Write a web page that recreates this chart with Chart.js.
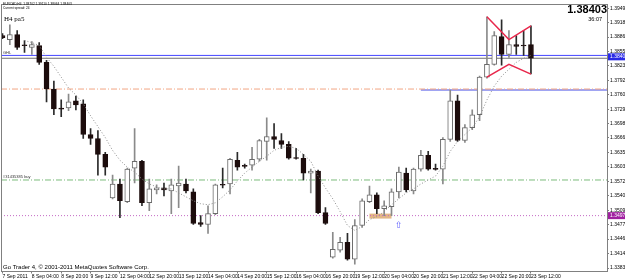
<!DOCTYPE html>
<html>
<head>
<meta charset="utf-8">
<script src="https://cdn.jsdelivr.net/npm/chart.js@4.4.1/dist/chart.umd.min.js"></script>
<style>
  html, body { margin: 0; padding: 0; background: #fff; }
  canvas { display: block; }
</style>
</head>
<body>
<canvas id="chart" width="625" height="279"></canvas>
<script>
// EURCAD H4, one value per bar (bar 0 = 7 Sep 12:00, bar 72 = 23 Sep 12:00)
const opens = [1.38896, 1.38810, 1.38918, 1.38681, 1.38638, 1.38681, 1.38314, 1.37732, 1.37301, 1.37323,
  1.37473, 1.37409, 1.36740, 1.36654, 1.36309, 1.35360, 1.35662, 1.35274, 1.36007, 1.36158,
  1.35253, 1.35533, 1.35576, 1.35511, 1.35619, 1.35662, 1.35490, 1.34821, 1.34778, 1.35016,
  1.35641, 1.35662, 1.36180, 1.36050, 1.36072, 1.36201, 1.36589, 1.36697, 1.36611, 1.36525,
  1.36223, 1.36223, 1.35900, 1.35943, 1.35037, 1.34067, 1.34218, 1.34390, 1.34024, 1.34757,
  1.35274, 1.35425, 1.35123, 1.35166, 1.35490, 1.35900, 1.35511, 1.35986, 1.36288, 1.35986,
  1.35986, 1.36633, 1.37473, 1.36611, 1.36891, 1.37172, 1.37991, 1.38271, 1.38875, 1.38487,
  1.38702, 1.38681, 1.38702];
const highs = [1.38940, 1.39134, 1.39004, 1.38789, 1.38767, 1.38746, 1.38357, 1.37905, 1.37495, 1.37624,
  1.37581, 1.37495, 1.36870, 1.36827, 1.36352, 1.35856, 1.35770, 1.36007, 1.36870, 1.36180,
  1.35770, 1.35641, 1.35684, 1.35770, 1.36050, 1.35770, 1.35555, 1.34972, 1.35188, 1.35662,
  1.36007, 1.36223, 1.36352, 1.36094, 1.36460, 1.36633, 1.37107, 1.36978, 1.36762, 1.36589,
  1.36439, 1.36309, 1.35986, 1.35964, 1.35145, 1.34606, 1.34498, 1.34584, 1.34886, 1.35339,
  1.35619, 1.35468, 1.35296, 1.35555, 1.36029, 1.36007, 1.36007, 1.36395, 1.36374, 1.36094,
  1.36676, 1.37711, 1.37603, 1.36956, 1.37279, 1.38012, 1.39306, 1.38983, 1.39241, 1.39004,
  1.38896, 1.39004, 1.39110];
const lows = [1.38832, 1.38702, 1.38595, 1.38530, 1.38487, 1.38271, 1.37452, 1.37172, 1.37128, 1.37258,
  1.37279, 1.36654, 1.36525, 1.35856, 1.35856, 1.35339, 1.34929, 1.35253, 1.35684, 1.35188,
  1.35080, 1.35447, 1.35404, 1.35016, 1.35145, 1.35468, 1.34778, 1.34735, 1.34584, 1.34994,
  1.35576, 1.35447, 1.35964, 1.36007, 1.35964, 1.36158, 1.36180, 1.36439, 1.36439, 1.36201,
  1.36201, 1.35749, 1.35468, 1.35016, 1.34778, 1.34045, 1.34175, 1.34002, 1.33916, 1.34714,
  1.35253, 1.35016, 1.34972, 1.34972, 1.35360, 1.35490, 1.35447, 1.35943, 1.35964, 1.35964,
  1.35662, 1.36589, 1.36589, 1.36568, 1.36848, 1.37042, 1.37969, 1.38250, 1.38250, 1.38422,
  1.38487, 1.38465, 1.38064];
const closes = [1.38853, 1.38918, 1.38638, 1.38675, 1.38702, 1.38314, 1.37732, 1.37301, 1.37295, 1.37452,
  1.37387, 1.36740, 1.36654, 1.36309, 1.36029, 1.35662, 1.35296, 1.35986, 1.36158, 1.35253,
  1.35555, 1.35576, 1.35533, 1.35641, 1.35684, 1.35511, 1.34800, 1.34778, 1.35016, 1.35641,
  1.35635, 1.36201, 1.36029, 1.36045, 1.36201, 1.36611, 1.36697, 1.36633, 1.36525, 1.36223,
  1.36218, 1.35900, 1.35943, 1.35037, 1.34800, 1.34239, 1.34390, 1.34024, 1.34757, 1.35296,
  1.35425, 1.35123, 1.35188, 1.35490, 1.35921, 1.35533, 1.35986, 1.36288, 1.35986, 1.35980,
  1.36633, 1.37473, 1.36611, 1.36891, 1.37172, 1.37991, 1.38271, 1.38896, 1.38487, 1.38702,
  1.38659, 1.38670, 1.38403];

// moving average, starts at bar 3
const maStart = 3;
const maValues = [1.38789, 1.38746, 1.38681, 1.38422, 1.38228, 1.37991, 1.37754, 1.37603, 1.37409, 1.37150,
  1.36913, 1.36676, 1.36395, 1.36180, 1.36029, 1.35921, 1.35770, 1.35662, 1.35598, 1.35555,
  1.35555, 1.35468, 1.35382, 1.35296, 1.35231, 1.35210, 1.35253, 1.35382, 1.35533, 1.35727,
  1.35900, 1.36029, 1.36158, 1.36266, 1.36395, 1.36460, 1.36482, 1.36439, 1.36309, 1.36158,
  1.35835, 1.35576, 1.35339, 1.35059, 1.34757, 1.34649, 1.34735, 1.34886, 1.34951, 1.35059,
  1.35210, 1.35339, 1.35468, 1.35555, 1.35662, 1.35749, 1.35835, 1.36050, 1.36374, 1.36589,
  1.36740, 1.36891, 1.37128, 1.37495, 1.37797, 1.38012, 1.38163, 1.38314, 1.38401, 1.38465];

const xTickIdx = [0, 4, 8, 12, 16, 20, 24, 28, 32, 36, 40, 44, 48, 52, 56, 60, 64, 68, 72];
const xTickLabels = ["7 Sep 2011", "8 Sep 04:00", "8 Sep 20:00", "9 Sep 12:00", "12 Sep 04:00",
  "12 Sep 20:00", "13 Sep 12:00", "14 Sep 04:00", "14 Sep 20:00", "15 Sep 12:00", "16 Sep 04:00",
  "16 Sep 20:00", "19 Sep 12:00", "20 Sep 04:00", "20 Sep 20:00", "21 Sep 12:00", "22 Sep 04:00",
  "22 Sep 20:00", "23 Sep 12:00"];
const yTickVals = [1.33830, 1.34145, 1.34460, 1.34775, 1.35090, 1.35405, 1.35720, 1.36035, 1.36350,
  1.36665, 1.36980, 1.37290, 1.37605, 1.37920, 1.38235, 1.38550, 1.38865, 1.39180, 1.39495];

// horizontal objects
const askLevel = 1.38465;
const bidLevel = 1.38403;
const orangeLevel = 1.37732;
const blueRayLevel = 1.37711;
const blueRayStart = 57;
const buyLevel = 1.35749;
const purpleLevel = 1.34972;

// bow-tie (upper and lower edges)
const tieBars = [66, 69, 72];
const tieUpper = [1.39306, 1.38810, 1.39110];
const tieLower = [1.37991, 1.38271, 1.38056];

// box and arrow
const boxBars = [50, 53];
const boxPrices = [1.34908, 1.35016];
const arrowBar = 54;
const arrowPrice = 1.34757;

const xMin = -0.204, xMax = 82.36;
const yMin = 1.33754, yMax = 1.39586;

const bars = opens.map((o, i) => i);
const isDoji = i => Math.abs(opens[i] - closes[i]) < 0.00008;
const isBull = i => closes[i] > opens[i] && !isDoji(i);
const bodyFill = bars.map(i => isBull(i) ? '#ffffff' : '#1c0c0c');
const bodyEdge = bars.map(i => isBull(i) ? '#6a6a6a' : '#1c0c0c');
const wickCol = bars.map(i => isBull(i) ? '#8a8a8a' : '#2a2a2a');

const hline = (level, color, dash, width, from) => ({
  type: 'line',
  data: [{ x: from === undefined ? xMin : from, y: level }, { x: xMax, y: level }],
  borderColor: color, borderWidth: width || 1, borderDash: dash || [],
  pointRadius: 0, order: 6
});

Chart.defaults.font.family = 'Liberation Sans';

const overlay = {
  id: 'overlay',
  beforeDatasetsDraw(chart) {
    const { ctx, scales: { x, y } } = chart;
    ctx.save();
    const x0 = x.getPixelForValue(boxBars[0]), x1 = x.getPixelForValue(boxBars[1]);
    const y0 = y.getPixelForValue(boxPrices[1]), y1 = y.getPixelForValue(boxPrices[0]);
    ctx.fillStyle = '#e2b686';
    ctx.fillRect(x0, y0, x1 - x0, y1 - y0);
    ctx.restore();
  },
  afterDraw(chart) {
    const { ctx, chartArea: a, scales: { x, y } } = chart;
    ctx.save();
    ctx.strokeStyle = '#808080';
    ctx.lineWidth = 1;
    ctx.beginPath();
    ctx.moveTo(a.left + 0.5, a.top);
    ctx.lineTo(a.left + 0.5, a.bottom);
    ctx.moveTo(a.left, a.top + 0.5);
    ctx.lineTo(a.right, a.top + 0.5);
    ctx.stroke();

    ctx.fillStyle = '#000';
    ctx.textBaseline = 'top';
    ctx.textAlign = 'left';
    ctx.font = '3.2px "Liberation Sans"';
    ctx.fillText('EURCAD,H4  1.38702 1.39110 1.38064 1.38403', 3, 2.5);
    ctx.fillText('Current spread: 24', 3, 6.3);
    ctx.font = '7px "Liberation Serif"';
    ctx.fillText('H4 pa5', 4, 16);
    ctx.font = '4px "Liberation Sans"';
    ctx.fillStyle = '#333';
    ctx.fillText('GHL', 3, y.getPixelForValue(askLevel) - 5);
    ctx.fillText('#31435385 buy', 3, y.getPixelForValue(buyLevel) - 5);
    ctx.fillStyle = '#000';
    ctx.font = '6px "Liberation Sans"';
    ctx.textBaseline = 'bottom';
    ctx.fillText('Go Trader 4, \u00a9 2001-2011 MetaQuotes Software Corp.', 3, a.bottom - 1);

    ctx.textAlign = 'right';
    ctx.textBaseline = 'alphabetic';
    ctx.font = 'bold 11px "Liberation Sans"';
    ctx.fillText('1.38403', a.right, 13);
    ctx.font = '5.5px "Liberation Sans"';
    ctx.fillText('36:07', a.right - 5, 21);

    // arrow
    ctx.fillStyle = '#5a5aff';
    ctx.textAlign = 'center';
    ctx.textBaseline = 'middle';
    ctx.font = '9px "DejaVu Sans"';
    ctx.fillText('\u21e7', x.getPixelForValue(arrowBar), y.getPixelForValue(arrowPrice));

    // price tags on the axis
    const tag = (level, color, text) => {
      const py = y.getPixelForValue(level);
      ctx.fillStyle = color;
      ctx.fillRect(a.right + 1, py - 3.5, 18, 7);
      ctx.fillStyle = '#fff';
      ctx.textAlign = 'left';
      ctx.font = '5px "Liberation Sans"';
      ctx.fillText(text, a.right + 3, py);
    };
    tag((askLevel + bidLevel) / 2, '#2a2ae6', '1.38403');
    tag(purpleLevel, '#a020a0', '1.34970');
    ctx.restore();
  }
};

new Chart(document.getElementById('chart'), {
  type: 'bar',
  data: {
    datasets: [
      {
        type: 'line',
        data: tieBars.map((b, k) => ({ x: b, y: tieUpper[k] })),
        borderColor: '#e8284c', borderWidth: 1.5, pointRadius: 0, order: 0
      },
      {
        type: 'line',
        data: tieBars.map((b, k) => ({ x: b, y: tieLower[k] })),
        borderColor: '#e8284c', borderWidth: 1.5, pointRadius: 0, order: 0
      },
      {
        type: 'line',
        data: maValues.map((v, k) => ({ x: maStart + k, y: v })),
        borderColor: '#8c8c8c', borderWidth: 1, borderDash: [1, 2],
        pointRadius: 0, order: 1
      },
      {
        data: bars.map(i => ({ x: i, y: [opens[i], closes[i]] })),
        backgroundColor: bodyFill, borderColor: bodyEdge, borderWidth: 1,
        borderSkipped: false, barThickness: 5, minBarLength: 1, grouped: false, order: 2
      },
      {
        data: bars.map(i => ({ x: i, y: [lows[i], highs[i]] })),
        backgroundColor: wickCol, borderWidth: 0,
        barThickness: 1, grouped: false, order: 3
      },
      hline(askLevel, '#4646ff'),
      hline(bidLevel, '#707070'),
      hline(orangeLevel, '#f2a583', [6, 2, 1, 2]),
      hline(blueRayLevel, '#a0a4f2', [], 2, blueRayStart),
      hline(buyLevel, '#7cbc7c', [6, 2, 1, 2]),
      hline(purpleLevel, '#c468c4', [1, 2])
    ]
  },
  options: {
    responsive: false,
    animation: false,
    layout: { padding: { top: 1, left: 1, right: 0, bottom: 0 } },
    plugins: { legend: { display: false }, tooltip: { enabled: false } },
    scales: {
      x: {
        type: 'linear', min: xMin, max: xMax, offset: false,
        grid: { drawOnChartArea: false, offset: false, tickLength: 2, color: '#808080' },
        border: { color: '#808080' },
        afterBuildTicks: s => { s.ticks = xTickIdx.map(v => ({ value: v })); },
        afterFit: s => { s.height = 7.5; },
        ticks: {
          align: 'start', padding: 0, maxRotation: 0, autoSkip: false, color: '#000',
          font: { size: 5 },
          callback: (v, i) => xTickLabels[i]
        }
      },
      y: {
        position: 'right', min: yMin, max: yMax,
        grid: { drawOnChartArea: false, tickLength: 2, color: '#808080' },
        border: { color: '#808080' },
        afterBuildTicks: s => { s.ticks = yTickVals.map(v => ({ value: v })); },
        afterFit: s => { s.width = 18; },
        ticks: {
          padding: 1, color: '#000', font: { size: 5 },
          callback: v => v.toFixed(5)
        }
      }
    }
  },
  plugins: [overlay]
});
</script>
</body>
</html>
